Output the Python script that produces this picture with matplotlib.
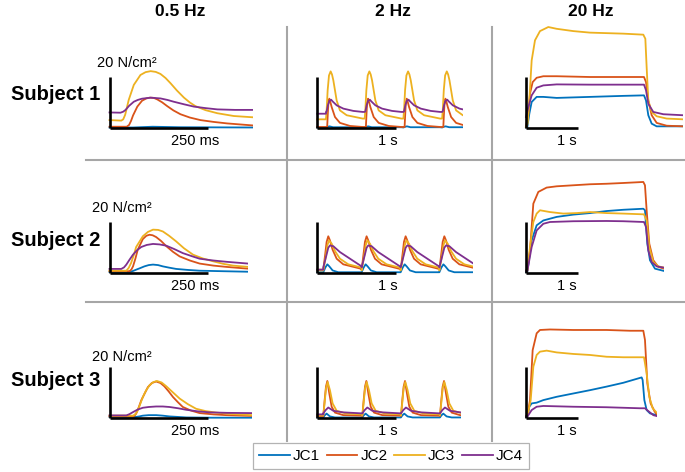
import numpy as np
import matplotlib.pyplot as plt

plt.rcParams['font.family'] = ['Liberation Sans', 'DejaVu Sans']

W, H = 685, 472

series = ['JC1', 'JC2', 'JC3', 'JC4']
colors = ['#0072BD', '#D95319', '#EDB120', '#7E2F8E']
freqs = ['0.5 Hz', '2 Hz', '20 Hz']
subjects = ['Subject 1', 'Subject 2', 'Subject 3']
bar_force = 20                       # N/cm2
bar_time = [250, 1000, 1000]         # ms
bar_labels = ['250 ms', '1 s', '1 s']

# ---- 0.5 Hz (time in ms, force in N/cm2) ----
t_s1_05_jc1 = [0, 60, 110, 180, 366]
f_s1_05_jc1 = [0.2, 0.2, 0.5, 0.3, 0.2]
t_s1_05_jc2 = [0, 44, 50, 55, 60, 71, 83, 94, 103, 113, 122, 134, 147, 163, 181, 205, 232, 265, 300, 366]
f_s1_05_jc2 = [0.5, 0.5, 1.2, 2.8, 4.9, 8.4, 10.7, 11.6, 11.9, 11.8, 11.2, 10.1, 8.6, 6.9, 5.4, 4.1, 3.1, 2.4, 1.8, 1.0]
t_s1_05_jc3 = [0, 30, 35, 40, 49, 62, 79, 92, 105, 118, 130, 143, 156, 172, 190, 205, 219, 245, 275, 317, 366]
f_s1_05_jc3 = [3.1, 2.9, 3.4, 5.2, 11.0, 16.9, 20.8, 21.9, 22.3, 22.0, 21.2, 19.6, 17.5, 14.7, 11.9, 10.0, 8.6, 7.0, 5.8, 4.7, 4.2]
t_s1_05_jc4 = [0, 28, 35, 41, 50, 62, 72, 83, 105, 130, 148, 164, 190, 215, 245, 275, 320, 366]
f_s1_05_jc4 = [6.1, 6.0, 6.4, 7.1, 8.7, 10.3, 11.0, 11.5, 11.9, 11.6, 11.0, 10.3, 9.3, 8.4, 7.8, 7.3, 7.1, 7.1]

t_s2_05_jc1 = [0, 51, 60, 68, 78, 89, 100, 111, 124, 136, 152, 170, 200, 230, 290, 353]
f_s2_05_jc1 = [0.4, 0.4, 0.8, 1.3, 1.9, 2.6, 3.1, 3.3, 3.1, 2.6, 2.1, 1.6, 1.2, 0.9, 0.7, 0.5]
t_s2_05_jc2 = [0, 51, 56, 60, 66, 72, 85, 94, 102, 110, 119, 132, 145, 162, 179, 205, 230, 265, 298, 353]
f_s2_05_jc2 = [0.7, 0.7, 1.4, 2.6, 5.6, 9.1, 13.3, 14.6, 15.0, 14.8, 14.1, 12.5, 10.5, 8.3, 6.5, 4.9, 3.7, 2.9, 2.4, 1.7]
t_s2_05_jc3 = [0, 43, 49, 55, 62, 68, 85, 98, 111, 124, 136, 152, 170, 190, 213, 238, 264, 290, 315, 353]
f_s2_05_jc3 = [0.9, 0.9, 2.0, 3.9, 7.0, 10.2, 14.4, 16.1, 17.0, 16.9, 16.3, 14.6, 12.4, 9.7, 7.2, 5.7, 4.6, 3.6, 2.9, 2.4]
t_s2_05_jc4 = [0, 30, 37, 43, 51, 60, 70, 81, 95, 111, 128, 145, 165, 187, 210, 230, 265, 298, 353]
f_s2_05_jc4 = [1.6, 1.6, 2.2, 3.3, 5.2, 7.2, 8.9, 10.2, 11.0, 11.4, 11.2, 10.7, 9.4, 7.8, 6.6, 5.6, 4.9, 4.4, 3.7]

t_s3_05_jc1 = [0, 68, 76, 85, 100, 119, 136, 153, 175, 196, 260, 364]
f_s3_05_jc1 = [0.3, 0.3, 0.5, 0.8, 1.0, 1.0, 0.8, 0.5, 0.3, 0.1, 0.0, 0.0]
t_s3_05_jc2 = [0, 60, 64, 68, 74, 81, 90, 98, 108, 119, 130, 140, 151, 162, 175, 187, 208, 230, 265, 298, 364]
f_s3_05_jc2 = [0.5, 0.5, 0.8, 1.6, 3.8, 6.8, 9.6, 12.0, 13.6, 14.2, 13.6, 12.3, 10.3, 8.1, 6.0, 4.2, 2.8, 1.8, 1.3, 1.0, 0.7]
t_s3_05_jc3 = [0, 60, 65, 70, 77, 85, 93, 102, 111, 121, 133, 145, 162, 179, 200, 221, 245, 272, 315, 364]
f_s3_05_jc3 = [0.8, 0.8, 1.3, 2.2, 4.8, 8.1, 10.6, 12.7, 13.9, 14.4, 13.8, 12.3, 9.9, 7.5, 5.3, 3.5, 2.6, 2.0, 1.4, 1.0]
t_s3_05_jc4 = [0, 43, 51, 60, 72, 85, 100, 119, 136, 153, 175, 196, 225, 255, 300, 364]
f_s3_05_jc4 = [0.9, 0.9, 1.4, 2.2, 3.2, 3.9, 4.2, 4.4, 4.4, 4.2, 3.7, 3.1, 2.5, 2.1, 1.9, 1.8]

# ---- 2 Hz: pulse onsets, baseline before first pulse, one pulse shape ----
onsets_s1 = [110, 600, 1090, 1580]
pre_s1 = [0.2, 0.4, 3.4, 5.6]
dt_s1_jc1 = [0, 25, 45, 90, 464]
f_s1_2_jc1 = [0.2, 0.5, 0.65, 0.3, 0.3]
dt_s1_jc2 = [0, 15, 22, 30, 42, 50, 72, 114, 177, 304, 464]
f_s1_2_jc2 = [0.4, 0.4, 5.0, 9.5, 11.5, 10.8, 8.2, 4.3, 2.0, 0.8, 0.4]
dt_s1_jc3 = [0, 8, 21, 38, 59, 76, 93, 135, 177, 262, 464]
f_s1_2_jc3 = [3.7, 6.8, 14.8, 20.6, 22.2, 21.0, 18.7, 10.8, 6.9, 5.0, 3.7]
dt_s1_jc4 = [0, 8, 25, 42, 65, 85, 135, 220, 346, 464]
f_s1_2_jc4 = [6.3, 6.5, 9.0, 10.6, 11.1, 10.4, 8.9, 7.6, 6.7, 6.3]

onsets_s2 = [76, 561, 1055, 1545]
pre_s2 = [0.3, 1.3, 1.0, 1.3]
dt_s2_jc1 = [0, 25, 51, 76, 118, 190, 485]
f_s2_2_jc1 = [0.3, 2.1, 3.4, 2.6, 1.0, 0.3, 0.3]
dt_s2_jc2 = [0, 25, 42, 63, 84, 118, 169, 253, 422, 485]
f_s2_2_jc2 = [1.3, 7.6, 12.2, 14.4, 12.8, 9.1, 5.6, 3.4, 2.1, 1.6]
dt_s2_jc3 = [0, 34, 51, 72, 106, 148, 211, 317, 485]
f_s2_2_jc3 = [1.0, 6.9, 10.8, 12.8, 11.5, 8.6, 5.6, 3.4, 2.1]
dt_s2_jc4 = [0, 34, 63, 84, 127, 211, 338, 485]
f_s2_2_jc4 = [2.2, 6.3, 9.9, 10.8, 10.5, 8.2, 5.6, 2.6]

onsets_s3 = [76, 570, 1059, 1553]
pre_s3 = [0.1, 0.65, 0.9, 1.3]
dt_s3_jc1 = [0, 17, 42, 84, 148, 485]
f_s3_2_jc1 = [0.1, 0.9, 1.6, 0.5, 0.1, 0.1]
dt_s3_jc2 = [0, 17, 34, 51, 76, 106, 148, 253, 485]
f_s3_2_jc2 = [0.65, 6.9, 12.2, 14.4, 9.5, 4.3, 2.0, 1.0, 0.8]
dt_s3_jc3 = [0, 17, 34, 55, 84, 118, 169, 295, 485]
f_s3_2_jc3 = [0.9, 6.0, 11.5, 14.0, 10.8, 5.6, 2.7, 1.6, 1.3]
dt_s3_jc4 = [0, 30, 63, 127, 253, 485]
f_s3_2_jc4 = [1.7, 3.0, 4.0, 2.7, 2.1, 1.7]

# ---- 20 Hz ----
t_s1_20_jc1 = [0, 26, 64, 109, 205, 333, 590, 1231, 1872, 2269, 2308, 2352, 2417, 2513, 3026]
f_s1_20_jc1 = [0.2, 0.4, 5.6, 10.2, 12.2, 12.2, 11.8, 12.2, 12.6, 12.8, 10.8, 5.0, 1.7, 0.65, 0.65]
t_s1_20_jc2 = [0, 45, 77, 128, 205, 333, 590, 1231, 1872, 2269, 2308, 2352, 2417, 2513, 2705, 3026]
f_s1_20_jc2 = [0.4, 5.6, 13.5, 18.0, 19.7, 20.3, 20.3, 20.0, 20.0, 20.0, 18.0, 10.8, 5.0, 2.0, 0.9, 0.65]
t_s1_20_jc3 = [0, 32, 64, 109, 173, 269, 429, 590, 910, 1231, 1872, 2256, 2295, 2320, 2352, 2417, 2513, 2705, 3026]
f_s1_20_jc3 = [0.4, 1.7, 10.8, 26.5, 34.4, 38.0, 39.6, 38.9, 38.0, 37.4, 37.0, 36.6, 35.0, 23.9, 10.8, 6.3, 4.6, 3.7, 3.4]
t_s1_20_jc4 = [0, 45, 109, 205, 333, 590, 1231, 1872, 2269, 2308, 2352, 2448, 2641, 3026]
f_s1_20_jc4 = [4.3, 8.2, 12.8, 15.8, 16.7, 17.1, 17.0, 17.0, 17.0, 14.8, 9.5, 6.3, 5.4, 5.0]

t_s2_20_jc1 = [0, 26, 109, 205, 333, 590, 910, 1231, 1551, 1872, 2256, 2288, 2333, 2384, 2480, 2654]
f_s2_20_jc1 = [0.4, 0.4, 12.8, 18.7, 20.6, 22.0, 22.9, 23.5, 24.3, 24.8, 25.2, 24.6, 11.5, 5.0, 1.7, 0.8]
t_s2_20_jc2 = [0, 26, 77, 141, 237, 397, 590, 910, 1231, 1551, 1872, 2256, 2288, 2320, 2371, 2448, 2545, 2654]
f_s2_20_jc2 = [1.0, 1.0, 8.9, 27.2, 31.8, 33.5, 34.0, 34.4, 34.8, 35.0, 35.3, 35.7, 34.4, 24.6, 11.5, 5.0, 2.4, 1.7]
t_s2_20_jc3 = [0, 26, 77, 141, 205, 269, 461, 718, 974, 1231, 1551, 1872, 2269, 2320, 2371, 2448, 2545, 2654]
f_s2_20_jc3 = [0.8, 0.8, 10.2, 20.0, 23.3, 24.6, 23.9, 23.3, 23.5, 23.9, 23.5, 23.3, 23.0, 20.6, 10.2, 4.3, 2.6, 2.1]
t_s2_20_jc4 = [0, 26, 109, 205, 333, 461, 910, 1551, 1872, 2269, 2308, 2352, 2417, 2513, 2654]
f_s2_20_jc4 = [0.8, 0.8, 10.2, 16.7, 19.3, 20.0, 20.3, 20.4, 20.3, 20.0, 18.0, 8.9, 4.3, 2.6, 2.1]

t_s3_20_jc1 = [0, 26, 64, 109, 205, 333, 590, 910, 1231, 1551, 1872, 2224, 2243, 2276, 2320, 2384, 2513]
f_s3_20_jc1 = [0.4, 0.4, 4.3, 5.6, 5.9, 6.9, 8.2, 9.5, 10.8, 12.2, 13.7, 15.8, 14.8, 6.9, 3.0, 1.7, 1.0]
t_s3_20_jc2 = [0, 26, 77, 128, 205, 269, 461, 910, 1551, 2000, 2256, 2288, 2333, 2397, 2474, 2513]
f_s3_20_jc2 = [0.65, 0.65, 6.9, 26.5, 33.1, 34.4, 34.6, 34.4, 34.4, 34.1, 34.1, 30.5, 13.5, 5.6, 2.4, 1.4]
t_s3_20_jc3 = [0, 26, 90, 141, 205, 269, 397, 590, 910, 1231, 1551, 1872, 2269, 2320, 2371, 2436, 2513]
f_s3_20_jc3 = [0.65, 0.65, 6.9, 20.0, 24.6, 25.9, 26.3, 25.6, 25.0, 24.6, 23.9, 23.7, 23.7, 17.4, 8.2, 3.7, 2.0]
t_s3_20_jc4 = [0, 26, 109, 205, 333, 910, 1551, 2192, 2288, 2352, 2448, 2513]
f_s3_20_jc4 = [0.4, 0.4, 3.0, 4.3, 4.6, 4.3, 4.1, 3.7, 3.7, 2.6, 1.0, 0.65]

# panel end times (ms)
t_end = [[366, 1848, 3026], [353, 1967, 2654], [364, 1815, 2513]]


def pulse_train(onsets, pre, dt, f):
    t = [0.0, onsets[0]]
    y = [pre, pre]
    for on in onsets:
        t += [on + d for d in dt]
        y += list(f)
    return t, y


slow = [
    [(t_s1_05_jc1, f_s1_05_jc1), (t_s1_05_jc2, f_s1_05_jc2), (t_s1_05_jc3, f_s1_05_jc3), (t_s1_05_jc4, f_s1_05_jc4)],
    [(t_s2_05_jc1, f_s2_05_jc1), (t_s2_05_jc2, f_s2_05_jc2), (t_s2_05_jc3, f_s2_05_jc3), (t_s2_05_jc4, f_s2_05_jc4)],
    [(t_s3_05_jc1, f_s3_05_jc1), (t_s3_05_jc2, f_s3_05_jc2), (t_s3_05_jc3, f_s3_05_jc3), (t_s3_05_jc4, f_s3_05_jc4)],
]
mid = [
    [pulse_train(onsets_s1, pre_s1[i], d, f) for i, (d, f) in enumerate(
        [(dt_s1_jc1, f_s1_2_jc1), (dt_s1_jc2, f_s1_2_jc2), (dt_s1_jc3, f_s1_2_jc3), (dt_s1_jc4, f_s1_2_jc4)])],
    [pulse_train(onsets_s2, pre_s2[i], d, f) for i, (d, f) in enumerate(
        [(dt_s2_jc1, f_s2_2_jc1), (dt_s2_jc2, f_s2_2_jc2), (dt_s2_jc3, f_s2_2_jc3), (dt_s2_jc4, f_s2_2_jc4)])],
    [pulse_train(onsets_s3, pre_s3[i], d, f) for i, (d, f) in enumerate(
        [(dt_s3_jc1, f_s3_2_jc1), (dt_s3_jc2, f_s3_2_jc2), (dt_s3_jc3, f_s3_2_jc3), (dt_s3_jc4, f_s3_2_jc4)])],
]
fast = [
    [(t_s1_20_jc1, f_s1_20_jc1), (t_s1_20_jc2, f_s1_20_jc2), (t_s1_20_jc3, f_s1_20_jc3), (t_s1_20_jc4, f_s1_20_jc4)],
    [(t_s2_20_jc1, f_s2_20_jc1), (t_s2_20_jc2, f_s2_20_jc2), (t_s2_20_jc3, f_s2_20_jc3), (t_s2_20_jc4, f_s2_20_jc4)],
    [(t_s3_20_jc1, f_s3_20_jc1), (t_s3_20_jc2, f_s3_20_jc2), (t_s3_20_jc3, f_s3_20_jc3), (t_s3_20_jc4, f_s3_20_jc4)],
]
traces = [slow, mid, fast]

# layout in pixels
col_x0 = [109.5, 317.3, 526]
row_y0 = [128, 273, 417.7]
px_per_ms = [98 / 250, 79 / 1000, 52 / 1000]
px_per_force = 51 / 20

fig = plt.figure(figsize=(W / 100, H / 100), dpi=100)
bg = fig.add_axes([0, 0, 1, 1])
bg.set_xlim(0, W)
bg.set_ylim(H, 0)
bg.axis('off')

grid_c = '#a6a6a6'
bg.plot([287.5, 287.5], [27, 441], color=grid_c, lw=1.5)
bg.plot([492, 492], [27, 441], color=grid_c, lw=1.5)
bg.plot([86, W], [160, 160], color=grid_c, lw=1.5)
bg.plot([86, W], [301.5, 301.5], color=grid_c, lw=1.5)

for j, fr in enumerate(freqs):
    bg.text([180, 393, 591][j], 11, fr, ha='center', va='center',
            fontsize=12.5, fontweight='bold')
for i, sub in enumerate(subjects):
    bg.text(55.5, [95, 241, 380][i], sub, ha='center', va='center',
            fontsize=14.5, fontweight='bold')
    bg.text([157, 152, 152][i], [63, 208, 357][i], '20 N/cm²', ha='right',
            va='center', fontsize=10.5)
    for j in range(3):
        bg.text([195, 388, 567][j], row_y0[i] + 13, bar_labels[j],
                ha='center', va='center', fontsize=10.5)

handles = []
fpad, fmax = 3, 45
for i in range(3):
    for j in range(3):
        sx = px_per_ms[j]
        tpad = 8 / sx
        left = col_x0[j] - 8
        width = (t_end[i][j] + tpad) * sx
        bottom = row_y0[i] + fpad * px_per_force
        height = (fmax + fpad) * px_per_force
        ax = fig.add_axes([left / W, 1 - bottom / H, width / W, height / H])
        ax.set_xlim(-tpad, t_end[i][j])
        ax.set_ylim(-fpad, fmax)
        ax.axis('off')
        for k, (t, f) in enumerate(traces[j][i]):
            ln, = ax.plot(t, f, color=colors[k], lw=1.3, solid_joinstyle='round')
            if i == 0 and j == 0:
                handles.append(ln)
        ax.plot([0, bar_time[j]], [0, 0], color='black', lw=1.9,
                solid_capstyle='butt', zorder=5)
        ax.plot([0, 0], [0, bar_force], color='black', lw=1.9,
                solid_capstyle='butt', zorder=5)

leg = fig.legend(handles, series, loc='center', bbox_to_anchor=(391 / W, 1 - 456 / H),
                 ncol=4, fontsize=11, frameon=True, fancybox=False,
                 handlelength=2.0, handletextpad=0.2, columnspacing=0.45,
                 borderpad=0.4, borderaxespad=0)
leg.get_frame().set_edgecolor('#a0a0a0')
leg.get_frame().set_linewidth(0.9)

fig.savefig('out.png', dpi=100)
